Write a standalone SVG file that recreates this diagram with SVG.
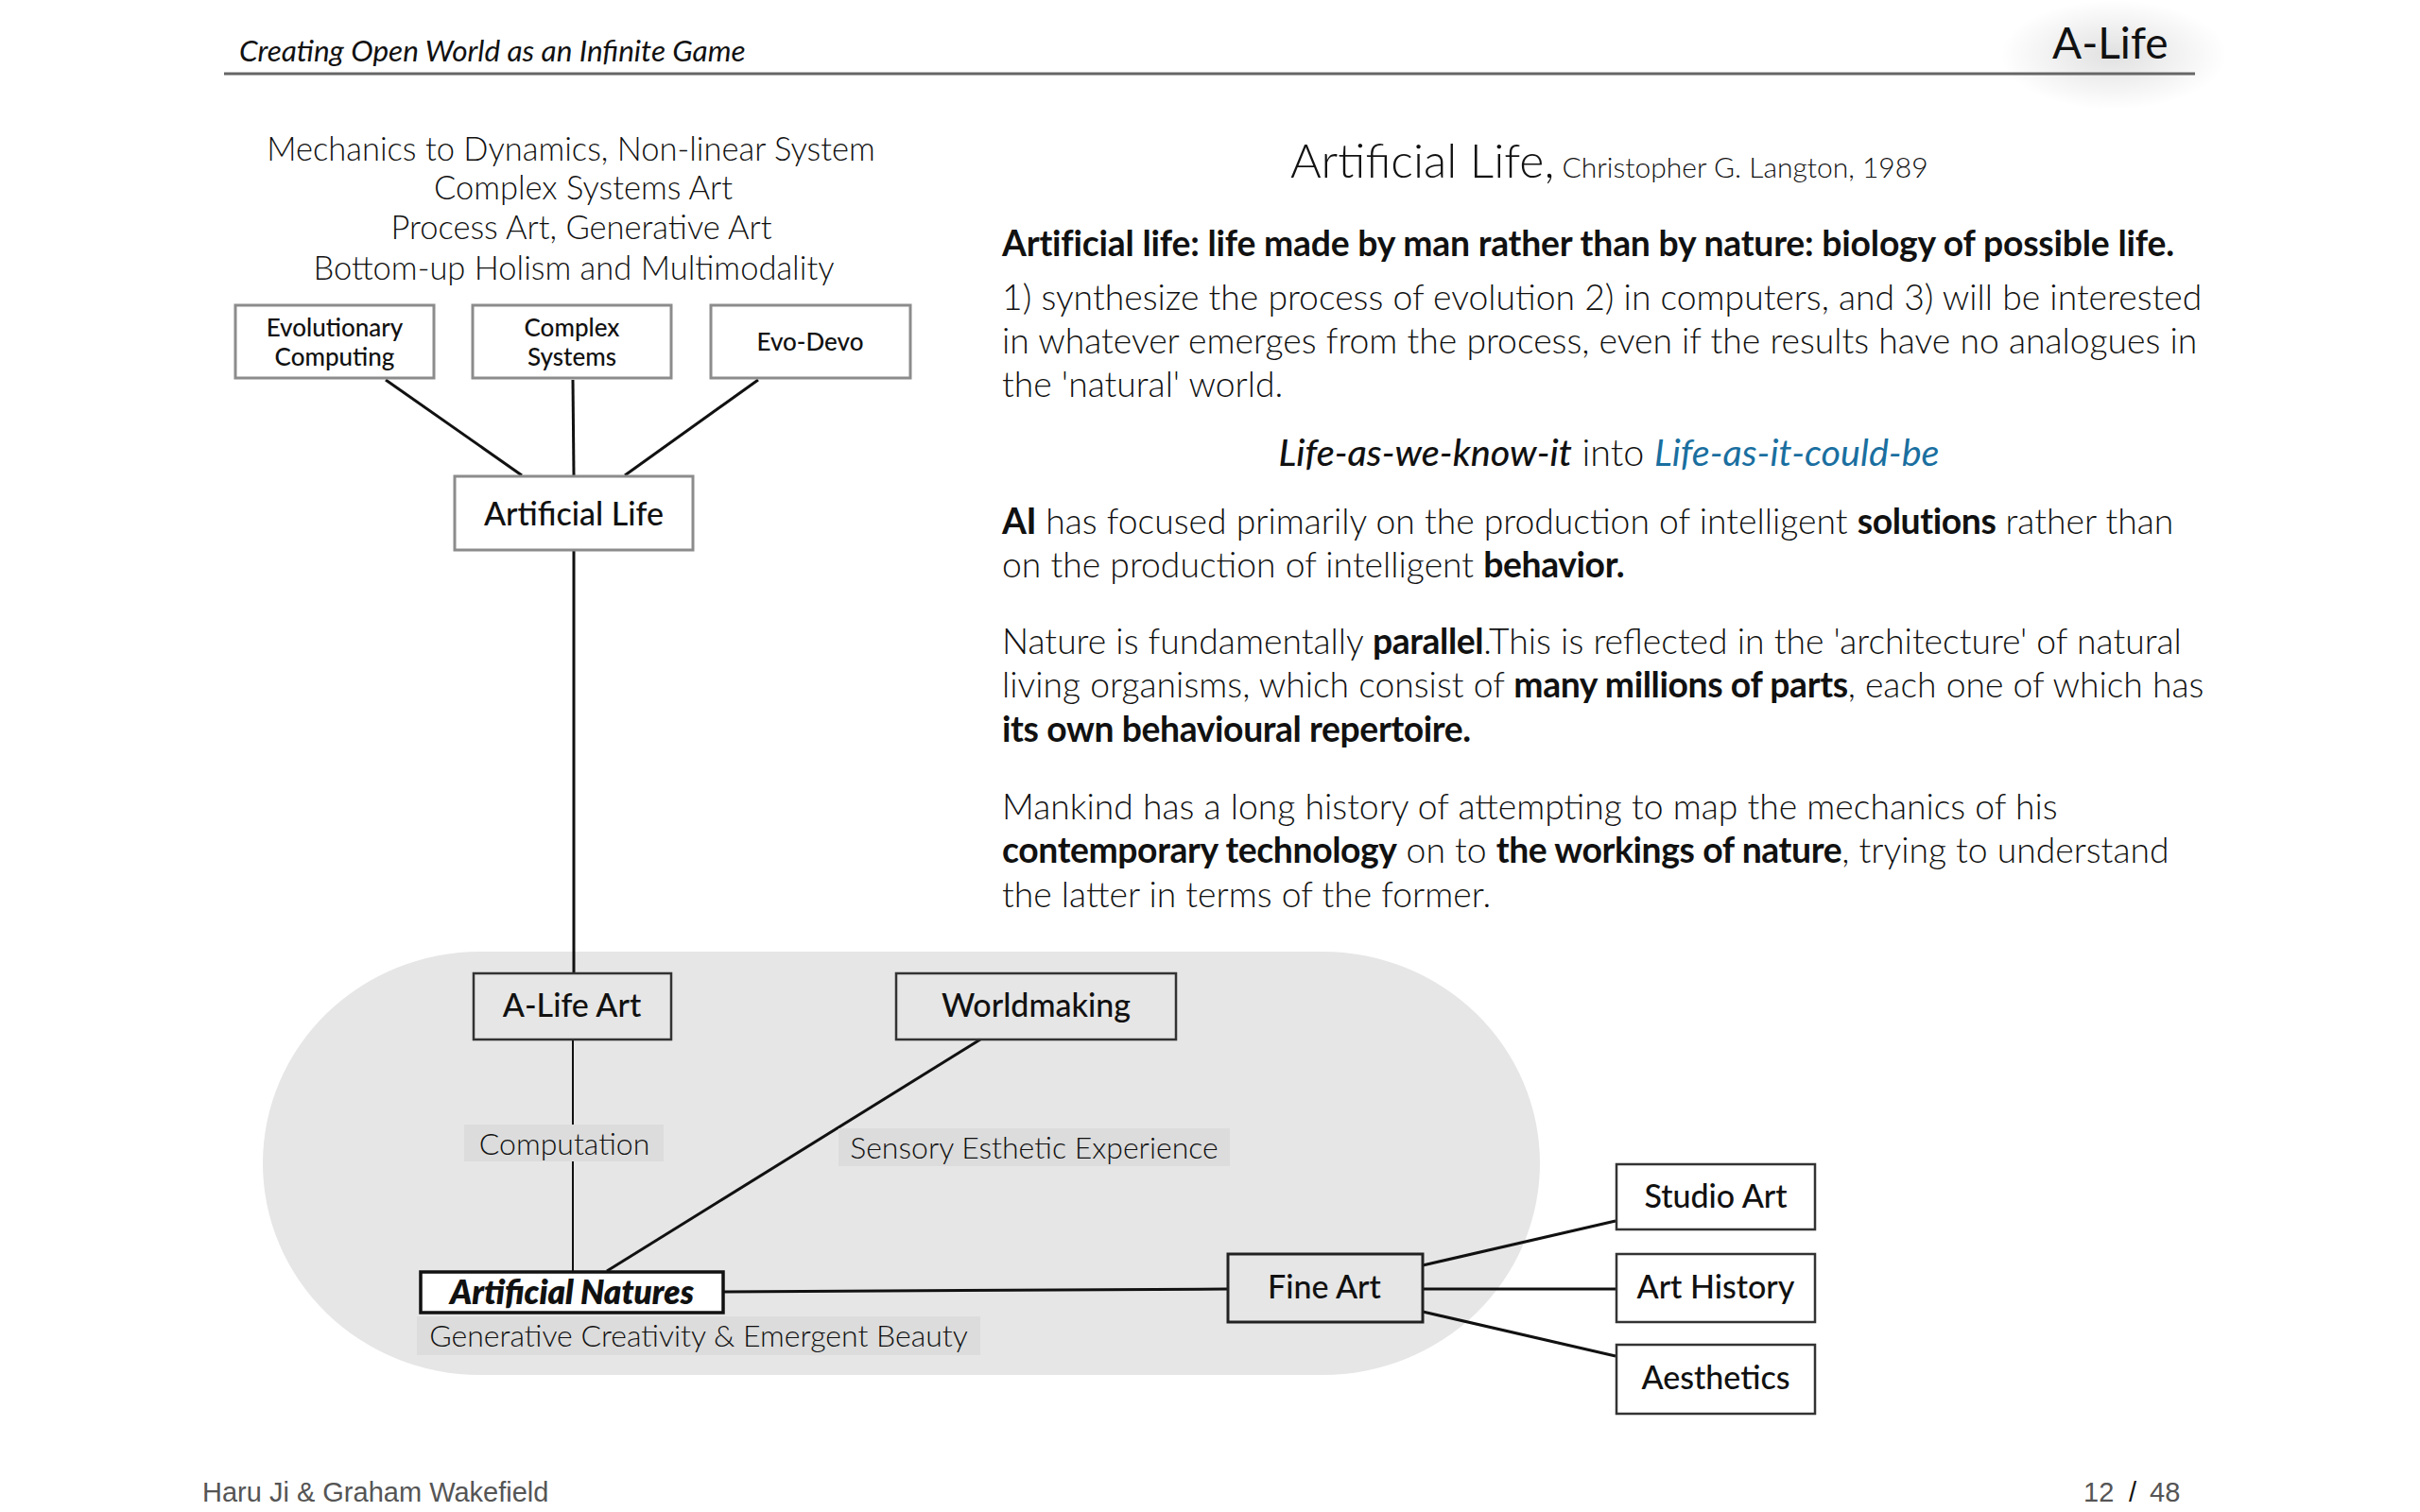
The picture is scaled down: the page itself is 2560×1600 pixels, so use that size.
<svg xmlns="http://www.w3.org/2000/svg" width="2560" height="1600" viewBox="0 0 2560 1600">
<defs>
<style>
text{font-family:Lato,"Open Sans","Liberation Sans",sans-serif;fill:#111}
.hdr{font-size:31.5px;font-style:italic}
.lt{font-size:34.5px;font-weight:300;text-anchor:middle}
.sb{font-size:26px;font-weight:500;text-anchor:middle}
.mb{font-size:34px;font-weight:500;text-anchor:middle}
.lab{font-size:32px;font-weight:300;text-anchor:middle}
.body{font-size:37.3px;font-weight:300}
.b{font-weight:700;letter-spacing:-0.4px}
.foot{font-family:"Liberation Sans",Arial,sans-serif;font-size:29px;fill:#555}
.gbox{fill:#fff;stroke:#8c8c8c;stroke-width:3}
.dbox{fill:#fff;stroke:#333;stroke-width:2.5}
.tbox{fill:none;stroke:#333;stroke-width:2.5}
.lbg{fill:#dcdcdc}
.con{stroke:#111;stroke-width:3;fill:none}
.thin{stroke:#111;stroke-width:2;fill:none}
</style>
<radialGradient id="glow" cx="0.5" cy="0.5" r="0.5">
<stop offset="0" stop-color="#000" stop-opacity="0.12"/>
<stop offset="1" stop-color="#000" stop-opacity="0"/>
</radialGradient>
</defs>
<rect width="2560" height="1600" fill="#fff"/>

<!-- header -->
<ellipse cx="2236" cy="58" rx="120" ry="58" fill="url(#glow)"/>
<text class="hdr" x="253" y="65">Creating Open World as an Infinite Game</text>
<text x="2171" y="62" style="font-size:46px;font-weight:400">A-Life</text>
<line x1="237" y1="78" x2="2322" y2="78" stroke="#666" stroke-width="3"/>

<!-- left header text -->
<g id="left-text">
<text class="lt" x="604" y="170">Mechanics to Dynamics, Non-linear System</text>
<text class="lt" x="617" y="211">Complex Systems Art</text>
<text class="lt" x="615" y="253">Process Art, Generative Art</text>
<text class="lt" x="607" y="296">Bottom-up Holism and Multimodality</text>
</g>

<!-- gray region -->
<rect id="region" x="278" y="1007" width="1351" height="448" rx="230" ry="224" fill="#e6e6e6"/>

<!-- connectors -->
<g id="connectors">
<line class="con" x1="408" y1="402" x2="552" y2="503"/>
<line class="con" x1="606" y1="402" x2="607" y2="503"/>
<line class="con" x1="802" y1="402" x2="661" y2="503"/>
<line class="con" x1="607" y1="583" x2="607" y2="1029"/>
<line class="thin" x1="606" y1="1099" x2="606" y2="1345"/>
<line class="con" x1="1037" y1="1100" x2="642" y2="1345"/>
<line class="con" x1="766" y1="1367" x2="1298" y2="1364"/>
<line class="con" x1="1505" y1="1339" x2="1709" y2="1292"/>
<line class="con" x1="1505" y1="1364" x2="1709" y2="1364"/>
<line class="con" x1="1505" y1="1388" x2="1709" y2="1435"/>
</g>

<!-- top nodes -->
<g id="evolutionary-computing">
<rect class="gbox" x="249" y="323" width="210" height="77"/>
<text class="sb" x="354" y="356">Evolutionary</text>
<text class="sb" x="354" y="387">Computing</text>
</g>
<g id="complex-systems">
<rect class="gbox" x="500" y="323" width="210" height="77"/>
<text class="sb" x="605" y="356">Complex</text>
<text class="sb" x="605" y="387">Systems</text>
</g>
<g id="evo-devo">
<rect class="gbox" x="752" y="323" width="211" height="77"/>
<text class="sb" x="857" y="371">Evo-Devo</text>
</g>
<g id="artificial-life">
<rect class="gbox" x="481" y="504" width="252" height="78"/>
<text class="mb" x="607" y="556">Artificial Life</text>
</g>

<!-- region nodes -->
<g id="a-life-art">
<rect class="tbox" x="501" y="1030" width="209" height="70"/>
<text class="mb" x="605" y="1076">A-Life Art</text>
</g>
<g id="worldmaking">
<rect class="tbox" x="948" y="1030" width="296" height="70"/>
<text class="mb" x="1096" y="1076">Worldmaking</text>
</g>
<g id="computation-label">
<rect class="lbg" x="491" y="1190" width="211" height="39"/>
<text class="lab" x="597" y="1222">Computation</text>
</g>
<g id="sensory-label">
<rect class="lbg" x="887" y="1194" width="414" height="40"/>
<text class="lab" x="1094" y="1226">Sensory Esthetic Experience</text>
</g>
<g id="artificial-natures">
<rect x="445" y="1346" width="320" height="43" fill="#fff" stroke="#111" stroke-width="3.5"/>
<text x="605" y="1380" style="font-size:35px;font-weight:800;font-style:italic;text-anchor:middle">Artificial Natures</text>
</g>
<g id="generative-label">
<rect class="lbg" x="441" y="1393" width="596" height="41"/>
<text class="lab" x="739" y="1425">Generative Creativity &amp; Emergent Beauty</text>
</g>
<g id="fine-art">
<rect x="1299" y="1327" width="206" height="72" fill="#e6e6e6" stroke="#222" stroke-width="3"/>
<text class="mb" x="1401" y="1374">Fine Art</text>
</g>
<g id="studio-art">
<rect class="dbox" x="1710" y="1232" width="210" height="69"/>
<text class="mb" x="1815" y="1278">Studio Art</text>
</g>
<g id="art-history">
<rect class="dbox" x="1710" y="1327" width="210" height="72"/>
<text class="mb" x="1815" y="1374">Art History</text>
</g>
<g id="aesthetics">
<rect class="dbox" x="1710" y="1423" width="210" height="73"/>
<text class="mb" x="1815" y="1470">Aesthetics</text>
</g>

<!-- right text -->
<g id="right-text">
<text x="1365" y="188" style="font-size:50px;font-weight:300">Artificial Life,<tspan style="font-size:30px"> Christopher G. Langton, 1989</tspan></text>
<text class="body" x="1060" y="271" style="font-weight:700;letter-spacing:-0.2px">Artificial life: life made by man rather than by nature: biology of possible life.</text>
<text class="body" x="1060" y="328">1) synthesize the process of evolution 2) in computers, and 3) will be interested</text>
<text class="body" x="1060" y="374">in whatever emerges from the process, even if the results have no analogues in</text>
<text class="body" x="1060" y="420">the 'natural' world.</text>
<text class="body" x="1702" y="493" style="text-anchor:middle;font-size:39.5px"><tspan style="font-style:italic;font-weight:500">Life-as-we-know-it</tspan> into <tspan style="font-style:italic;font-weight:400;fill:#1a6fa0">Life-as-it-could-be</tspan></text>
<text class="body" x="1060" y="565"><tspan class="b">AI</tspan> has focused primarily on the production of intelligent <tspan class="b">solutions</tspan> rather than</text>
<text class="body" x="1060" y="611">on the production of intelligent <tspan class="b">behavior.</tspan></text>
<text class="body" x="1060" y="692">Nature is fundamentally <tspan class="b">parallel</tspan>.This is reflected in the 'architecture' of natural</text>
<text class="body" x="1060" y="738">living organisms, which consist of <tspan class="b">many millions of parts</tspan>, each one of which has</text>
<text class="body" x="1060" y="785"><tspan class="b">its own behavioural repertoire.</tspan></text>
<text class="body" x="1060" y="867">Mankind has a long history of attempting to map the mechanics of his</text>
<text class="body" x="1060" y="913"><tspan class="b">contemporary technology</tspan> on to <tspan class="b">the workings of nature</tspan>, trying to understand</text>
<text class="body" x="1060" y="960">the latter in terms of the former.</text>
</g>

<!-- footer -->
<text class="foot" x="214" y="1589">Haru Ji &amp; Graham Wakefield</text>
<text class="foot" x="2204" y="1589">12</text>
<text class="foot" x="2252" y="1589" style="fill:#111">/</text>
<text class="foot" x="2274" y="1589">48</text>
</svg>
